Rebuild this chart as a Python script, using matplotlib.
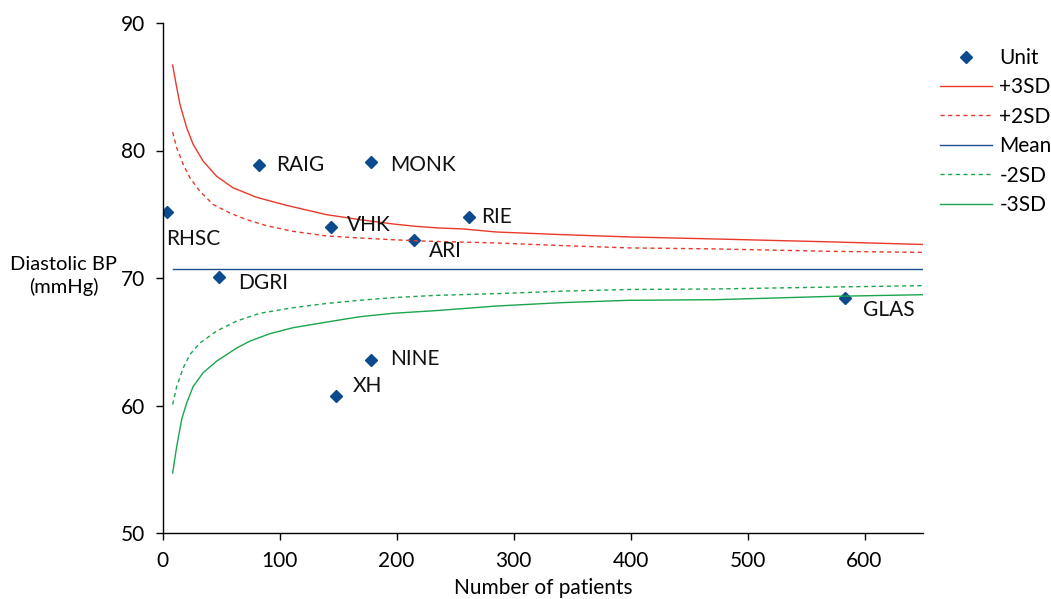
import matplotlib
matplotlib.use("Agg")
import matplotlib.pyplot as plt

plt.rcParams['font.family'] = ['Lato', 'DejaVu Sans']

# units: number of patients vs mean diastolic BP
units = ["RHSC", "DGRI", "RAIG", "VHK", "XH", "MONK", "NINE", "ARI", "RIE", "GLAS"]
n_patients = [4, 48, 82, 144, 148, 178, 178, 215, 262, 583]
dbp = [75.2, 70.1, 78.85, 73.98, 60.78, 79.1, 63.58, 72.96, 74.76, 68.45]

# funnel limits
x_p3 = [8.5, 12, 14.8, 20.5, 26.1, 34.6, 46.1, 60.2, 80.2, 105.8, 139.9, 168.3, 196.8,
        216.7, 236.6, 256.5, 285, 341.8, 398.7, 472.7, 572.2, 650]
y_p3 = [86.7, 84.93, 83.6, 81.78, 80.47, 79.16, 77.98, 77.07, 76.33, 75.7, 74.97, 74.58, 74.24,
        74.05, 73.92, 73.85, 73.61, 73.4, 73.22, 73.06, 72.83, 72.63]

x_p2 = [8.5, 12, 17.6, 23.3, 31.8, 43.2, 57.4, 71.7, 88.7, 111.4, 139.9, 168.3, 196.8,
        228, 285, 341.8, 398.7, 472.7, 572.2, 650]
y_p2 = [81.44, 80.2, 78.9, 77.86, 76.8, 75.76, 75.1, 74.58, 74.1, 73.66, 73.3, 73.14, 73.0,
        72.88, 72.75, 72.54, 72.36, 72.28, 72.09, 72.01]

x_mean = [8.5, 650]
y_mean = [70.71, 70.71]

x_m2 = [8.5, 12, 17.6, 23.3, 31.8, 46.1, 63.1, 83, 111.4, 139.9, 168.3, 196.8, 233.8,
        285, 341.8, 398.7, 472.7, 572.2, 650]
y_m2 = [60.08, 61.5, 62.96, 64.0, 64.9, 65.84, 66.62, 67.23, 67.67, 68.0, 68.25, 68.46, 68.64,
        68.77, 68.97, 69.1, 69.14, 69.29, 69.4]

x_m3 = [8.5, 12, 16.2, 20.5, 26.1, 34.6, 46.1, 63.1, 74.5, 91.5, 111.4, 139.9, 168.3, 196.8,
        236.6, 285, 341.8, 398.7, 472.7, 572.2, 650]
y_m3 = [54.71, 56.8, 58.9, 60.2, 61.5, 62.57, 63.48, 64.5, 65.05, 65.63, 66.1, 66.54, 66.96, 67.23,
        67.46, 67.8, 68.07, 68.25, 68.3, 68.56, 68.69]

# label offsets in pixels
offsets = {"RHSC": (-1, -27), "DGRI": (19, -6), "RAIG": (18, 0), "VHK": (16, 2),
           "XH": (17, 10), "MONK": (19, -3), "NINE": (19, 1), "ARI": (15, -11),
           "RIE": (12, 0), "GLAS": (18, -12)}

red = "#e8392b"
green = "#1aa64b"
blue = "#1d4f8a"
mark_col = "#0b4a8c"
fs = 15

fig = plt.figure(figsize=(10.51, 5.99), dpi=100)
ax = fig.add_axes([162.7 / 1051, 1 - 533 / 599, (923 - 162.7) / 1051, (533 - 23) / 599])

ax.plot(n_patients, dbp, linestyle="none", marker="D", markersize=6, color=mark_col, label="Unit")
ax.plot(x_p3, y_p3, color=red, lw=1.0, label="+3SD")
ax.plot(x_p2, y_p2, color=red, lw=1.0, linestyle=(0, (3, 2.5)), label="+2SD")
ax.plot(x_mean, y_mean, color=blue, lw=1.0, label="Mean")
ax.plot(x_m2, y_m2, color=green, lw=1.0, linestyle=(0, (3, 2.5)), label="-2SD")
ax.plot(x_m3, y_m3, color=green, lw=1.0, label="-3SD")

for name, x, y in zip(units, n_patients, dbp):
    ax.annotate(name, (x, y), xytext=offsets[name], textcoords="offset pixels",
                ha="left", va="center", fontsize=fs, color="#111111")

ax.set_xlim(0, 650)
ax.set_ylim(50, 90)
ax.set_xticks([0, 100, 200, 300, 400, 500, 600])
ax.set_yticks([50, 60, 70, 80, 90])
for s in ["top", "right"]:
    ax.spines[s].set_visible(False)
ax.spines["left"].set_linewidth(1.0)
ax.spines["bottom"].set_linewidth(1.0)
ax.tick_params(labelsize=fs, length=5, width=1.0, direction="out")
ax.tick_params(axis="y", pad=8)
ax.tick_params(axis="x", pad=8)

ax.set_xlabel("Number of patients", fontsize=fs, labelpad=5)
fig.text(64 / 1051, 1 - 276 / 599, "Diastolic BP\n(mmHg)", ha="center", va="center",
         fontsize=14.5, multialignment="center", linespacing=1.3)

ax.legend(loc="upper left", bbox_to_anchor=(940 / 1051, 1 - 48 / 599),
          bbox_transform=fig.transFigure, frameon=False, fontsize=fs,
          handlelength=2.5, handletextpad=0.35, labelspacing=0.45, borderpad=0,
          borderaxespad=0)

fig.savefig("out.png", dpi=100)
